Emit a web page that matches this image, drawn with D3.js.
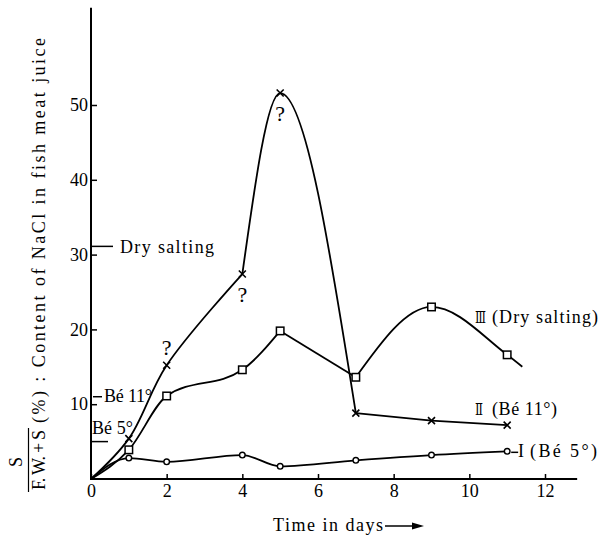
<!DOCTYPE html>
<html><head><meta charset="utf-8">
<script src="https://cdn.jsdelivr.net/npm/d3@7"></script>
<style>html,body{margin:0;padding:0;background:#fff;} svg{display:block;}</style>
</head><body>
<script>
// ---- data ----
const days = [0, 1, 2, 4, 5, 7, 9, 11];
const seriesI = [0, 2.8, 2.3, 3.2, 1.7, 2.5, 3.2, 3.7];         // Bé 5°  (circles)
const seriesII = [0, 5.4, 15.2, 27.4, 51.6, 8.8, 7.8, 7.2];     // Bé 11° (crosses)
const seriesIII = [0, 3.9, 11.1, 14.6, 19.8, 13.6, 23.0, 16.6]; // Dry salting (squares)
const tailIIIDays = [11.4];
const tailIIIValues = [15.0];
const xTicks = [0, 2, 4, 6, 8, 10, 12];
const yTicks = [10, 20, 30, 40, 50];
const refLabels = ["Dry salting", "Bé 11°", "Bé 5°"];
const refValues = [31.1, 11, 5];
const queryDays = [2, 4, 5];   // "?" marks on series II

// ---- layout ----
const W = 598, H = 536;
const serif = "'Liberation Serif','DejaVu Serif',serif";
const x = d3.scaleLinear().domain([0, 12]).range([91, 545]);
const y = d3.scaleLinear().domain([0, 50]).range([479, 105]);

const svg = d3.select("body").append("svg").attr("width", W).attr("height", H)
  .attr("font-family", serif).attr("fill", "#000");

// axes lines
svg.append("line").attr("x1", x(0)).attr("x2", x(12.85)).attr("y1", y(0)).attr("y2", y(0))
  .attr("stroke", "#000").attr("stroke-width", 2);
svg.append("line").attr("x1", x(0)).attr("x2", x(0)).attr("y1", y(0) + 1).attr("y2", y(63))
  .attr("stroke", "#000").attr("stroke-width", 2);

const gx = svg.append("g").attr("transform", `translate(0,${y(0)})`)
  .call(d3.axisBottom(x).tickValues(xTicks).tickSize(-5).tickPadding(5).tickFormat(d3.format("d")));
gx.select(".domain").remove();
gx.selectAll("text").attr("font-family", serif).attr("font-size", 18).attr("fill", "#000");
gx.selectAll("line").attr("stroke-width", 1.5);

const gy = svg.append("g").attr("transform", `translate(${x(0)},0)`)
  .call(d3.axisLeft(y).tickValues(yTicks).tickSize(-6).tickPadding(3));
gy.select(".domain").remove();
gy.selectAll("text").attr("font-family", serif).attr("font-size", 18).attr("fill", "#000");
gy.selectAll("line").attr("stroke-width", 1.5);

// ---- series lines (smooth pieces joined at the hand-drawn corners) ----
const smooth = d3.line().x(d => x(d[0])).y(d => y(d[1])).curve(d3.curveMonotoneX);
const rounded = d3.line().x(d => x(d[0])).y(d => y(d[1])).curve(d3.curveCatmullRom.alpha(0.5));
const straight = d3.line().x(d => x(d[0])).y(d => y(d[1]));
const ptsI = days.map((d, i) => [d, seriesI[i]]);
const ptsII = days.map((d, i) => [d, seriesII[i]]);
const ptsIII = days.map((d, i) => [d, seriesIII[i]]);
const lineIII = ptsIII.concat(tailIIIDays.map((d, i) => [d, tailIIIValues[i]]));

const pieces = [
  smooth(ptsI),
  rounded(ptsII.slice(0, 4)), smooth(ptsII.slice(3, 6)), straight(ptsII.slice(5)),
  smooth(lineIII.slice(0, 5)), straight(lineIII.slice(4, 6)), smooth(lineIII.slice(5))
];
pieces.forEach(d => {
  svg.append("path").attr("d", d).attr("fill", "none")
    .attr("stroke", "#000").attr("stroke-width", 1.8).attr("stroke-linejoin", "round");
});

// markers
svg.selectAll(".mI").data(ptsI.slice(1)).join("circle")
  .attr("cx", d => x(d[0])).attr("cy", d => y(d[1])).attr("r", 2.8)
  .attr("fill", "#fff").attr("stroke", "#000").attr("stroke-width", 1.4);
const s = 7.5;
svg.selectAll(".mIII").data(ptsIII.slice(1)).join("rect")
  .attr("x", d => x(d[0]) - s / 2).attr("y", d => y(d[1]) - s / 2)
  .attr("width", s).attr("height", s)
  .attr("fill", "#fff").attr("stroke", "#000").attr("stroke-width", 1.5);
const c = 3.5;
svg.selectAll(".mII").data(ptsII.slice(1)).join("path")
  .attr("d", d => {
    const cx = x(d[0]), cy = y(d[1]);
    return `M${cx - c},${cy - c}L${cx + c},${cy + c}M${cx - c},${cy + c}L${cx + c},${cy - c}`;
  })
  .attr("stroke", "#000").attr("stroke-width", 1.6).attr("fill", "none");

// question marks
svg.selectAll(".q").data(queryDays).join("text")
  .attr("x", d => x(d))
  .attr("y", (d, i) => y(seriesII[days.indexOf(d)]) + (i === 0 ? -10 : 28))
  .attr("text-anchor", "middle").attr("font-size", 22)
  .text("?");

// reference levels at left
svg.append("line").attr("x1", x(0)).attr("x2", x(0) + 22).attr("y1", y(refValues[0])).attr("y2", y(refValues[0]))
  .attr("stroke", "#000").attr("stroke-width", 1.5);
svg.append("text").attr("x", x(0) + 29).attr("y", y(refValues[0]) + 7).attr("font-size", 18)
  .attr("textLength", 94).attr("lengthAdjust", "spacing").text(refLabels[0]);
svg.append("line").attr("x1", x(0) + 2).attr("x2", x(0) + 11).attr("y1", y(refValues[1])).attr("y2", y(refValues[1]))
  .attr("stroke", "#000").attr("stroke-width", 1.5);
svg.append("text").attr("x", x(0) + 13).attr("y", y(refValues[1]) + 5).attr("font-size", 18)
  .attr("textLength", 48).attr("lengthAdjust", "spacing").text(refLabels[1]);
svg.append("line").attr("x1", x(0)).attr("x2", x(0) + 17).attr("y1", y(refValues[2])).attr("y2", y(refValues[2]))
  .attr("stroke", "#000").attr("stroke-width", 1.5);
svg.append("text").attr("x", x(0) + 1).attr("y", y(refValues[2]) - 8).attr("font-size", 18)
  .attr("textLength", 41).attr("lengthAdjust", "spacing").text(refLabels[2]);

// series end labels
const t3 = svg.append("text").attr("y", 323).attr("font-size", 18);
t3.append("tspan").attr("x", 475).attr("font-family", "'DejaVu Serif',serif").attr("font-size", 16)
  .attr("textLength", 11).attr("lengthAdjust", "spacingAndGlyphs").text("Ⅲ");
t3.append("tspan").attr("x", 492).attr("textLength", 106).attr("lengthAdjust", "spacing").text("(Dry  salting)");

const t2 = svg.append("text").attr("y", 415).attr("font-size", 18);
t2.append("tspan").attr("x", 475).attr("font-family", "'DejaVu Serif',serif").attr("font-size", 16)
  .attr("textLength", 8).attr("lengthAdjust", "spacingAndGlyphs").text("Ⅱ");
t2.append("tspan").attr("x", 492).attr("textLength", 65).attr("lengthAdjust", "spacing").text("(Bé 11°)");

svg.append("line").attr("x1", x(11) + 4).attr("x2", x(11) + 11).attr("y1", y(seriesI[7]) + 1).attr("y2", y(seriesI[7]) + 1)
  .attr("stroke", "#000").attr("stroke-width", 1.5);
const t1 = svg.append("text").attr("y", 457).attr("font-size", 18);
t1.append("tspan").attr("x", 518).text("I");
t1.append("tspan").attr("x", 530).attr("textLength", 67).attr("lengthAdjust", "spacing").text("(Bé  5°)");

// x-axis title with arrow
svg.append("text").attr("x", 273).attr("y", 531).attr("font-size", 18)
  .attr("textLength", 110).attr("lengthAdjust", "spacing").text("Time in days");
svg.append("line").attr("x1", 385).attr("x2", 414).attr("y1", 526).attr("y2", 526)
  .attr("stroke", "#000").attr("stroke-width", 1.5);
svg.append("path").attr("d", "M424,526L412,522.5L412,529.5Z").attr("fill", "#000");

// y-axis title (rotated) with fraction
const fr = svg.append("g");
fr.append("text").attr("transform", "translate(22,462) rotate(-90)").attr("text-anchor", "middle")
  .attr("font-size", 18).text("S");
fr.append("line").attr("x1", 28.5).attr("x2", 28.5).attr("y1", 428).attr("y2", 492)
  .attr("stroke", "#000").attr("stroke-width", 1.2);
fr.append("text").attr("transform", "translate(45,490) rotate(-90)")
  .attr("font-size", 18).attr("textLength", 60).attr("lengthAdjust", "spacing").text("F. W. + S");
fr.append("text").attr("transform", "translate(45,423) rotate(-90)")
  .attr("font-size", 18).attr("textLength", 385).attr("lengthAdjust", "spacing")
  .text("(%) : Content of NaCl in fish meat juice");
</script>
</body></html>
